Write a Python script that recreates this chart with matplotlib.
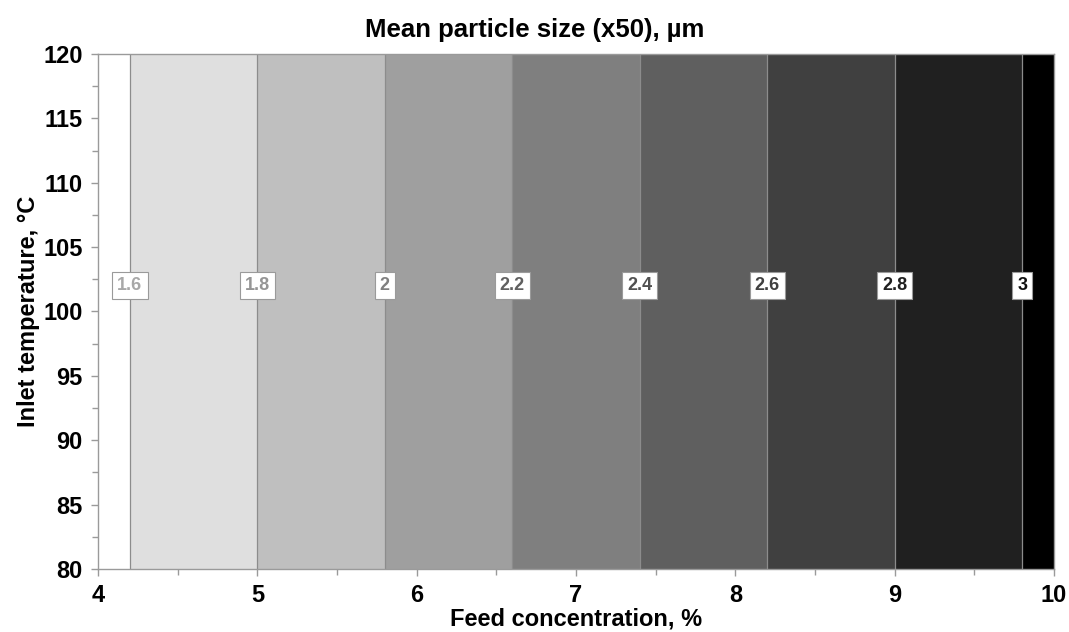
import numpy as np
import matplotlib.pyplot as plt
from matplotlib.ticker import MultipleLocator

plt.rcParams['font.family'] = ['Liberation Sans', 'DejaVu Sans']
plt.rcParams['font.weight'] = 'bold'

# response surface corners: particle size only depends on feed concentration
feed_conc = [4.0, 10.0]          # %
inlet_temp = [80.0, 120.0]       # degC
particle_size = [[1.55, 3.05],
                 [1.55, 3.05]]   # x50, um

levels = [1.6, 1.8, 2.0, 2.2, 2.4, 2.6, 2.8, 3.0]
band_colors = ['#ffffff', '#dfdfdf', '#bfbfbf', '#9f9f9f', '#7f7f7f',
               '#5f5f5f', '#404040', '#202020', '#000000']
label_colors = ['#a8a8a8', '#959595', '#808080', '#606060', '#505050',
                '#404040', '#202020', '#101010']
label_temp = 102

fig = plt.figure(figsize=(10.69, 6.32), dpi=100)
ax = fig.add_axes([0.0917, 0.0997, 0.8943, 0.8149])

X, Y = np.meshgrid(feed_conc, inlet_temp)
Z = np.array(particle_size)
fill_levels = [0.0] + levels + [5.0]
ax.contourf(X, Y, Z, levels=fill_levels, colors=band_colors)
cs = ax.contour(X, Y, Z, levels=levels, colors='#8c8c8c', linewidths=0.9)

# boxed labels on each contour line
for lev, segs, tc in zip(levels, cs.allsegs, label_colors):
    seg = segs[0]
    order = np.argsort(seg[:, 1])
    xl = np.interp(label_temp, seg[order, 1], seg[order, 0])
    ax.text(xl, label_temp, f'{lev:g}', ha='center', va='center',
            fontsize=13, fontweight='bold', color=tc,
            bbox=dict(boxstyle='square,pad=0.28', fc='white', ec='#9a9a9a', lw=0.8))

ax.set_xlim(4, 10)
ax.set_ylim(80, 120)
ax.xaxis.set_major_locator(MultipleLocator(1))
ax.xaxis.set_minor_locator(MultipleLocator(0.5))
ax.yaxis.set_major_locator(MultipleLocator(5))
ax.yaxis.set_minor_locator(MultipleLocator(2.5))
ax.tick_params(which='both', direction='out', color='#9a9a9a', labelsize=17, pad=6)
ax.tick_params(which='major', length=5, width=1)
ax.tick_params(which='minor', length=4, width=1)
for sp in ax.spines.values():
    sp.set_color('#9a9a9a')
    sp.set_linewidth(1)

fig.text(0.5, 1 - 37 / 632, 'Mean particle size (x50), µm', ha='center',
         va='baseline', fontsize=18.5, fontweight='bold')
ax.set_xlabel('Feed concentration, %', fontsize=17, fontweight='bold', labelpad=0)
ax.set_ylabel('Inlet temperature, °C', fontsize=17, fontweight='bold', labelpad=2)

fig.savefig('out.png', dpi=100)
